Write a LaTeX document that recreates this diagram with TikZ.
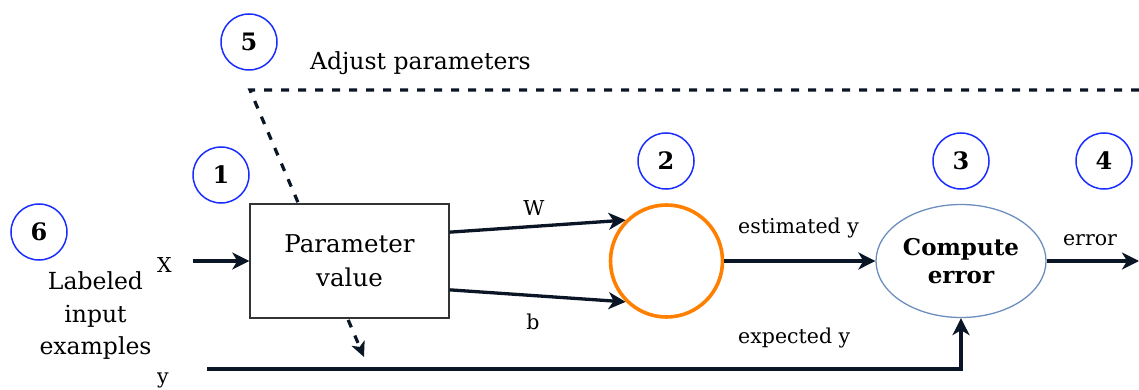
\documentclass[tikz,border=0pt]{standalone}
\usepackage{fontspec}
\setmainfont{DejaVu Serif}
\usetikzlibrary{arrows.meta,shapes.geometric,calc}
\definecolor{ink}{RGB}{10,22,38}
\definecolor{numblue}{RGB}{25,45,255}
\definecolor{ringorange}{RGB}{255,128,0}
\definecolor{ellblue}{RGB}{108,142,191}
\begin{document}
\begin{tikzpicture}[x=1pt,y=-1pt,
  arr/.style={draw=ink,line width=3.3pt,-{Stealth[length=17pt,width=17pt,inset=5pt]}},
  dsh/.style={draw=ink,line width=3.2pt,dash pattern=on 8pt off 9pt,-{Stealth[length=15pt,width=14pt,inset=4pt]}},
  num/.style={circle,draw=numblue,line width=1.5pt,minimum size=56pt,inner sep=0pt,font=\fontsize{24}{28}\selectfont\bfseries},
  lbl/.style={inner sep=0pt,font=\fontsize{20.5}{24}\selectfont},
  big/.style={inner sep=0pt,font=\fontsize{23.5}{32.5}\selectfont,align=center},
]
\useasboundingbox (0,0) rectangle (1139,390);
% dashed feedback path
\coordinate (dR) at (1139,90);
\coordinate (dL) at (250,90);
\coordinate (dE) at (364,357);
\draw[dsh] (dR) -- (dL) -- (dE);
% main nodes
\node[draw=black!80,line width=1.4pt,fill=white,minimum width=199pt,minimum height=114pt,inner sep=0pt,
      font=\fontsize{24.5}{34}\selectfont,align=center] (pv) at (349.5,261) {Parameter\\value};
\node[circle,draw=ringorange,line width=3.6pt,minimum size=112pt,inner sep=0pt] (sum) at (666.5,261) {};
\node[ellipse,draw=ellblue,line width=1.3pt,minimum width=170pt,minimum height=113pt,inner sep=0pt,
      font=\fontsize{23}{28}\selectfont\bfseries,align=center] (ce) at (961,261) {Compute\\error};
% numbered circles
\node[num] (n5) at (249,42) {5};
\node[num] (n1) at (221,175) {1};
\node[num] (n6) at (39,232) {6};
\node[num] (n2) at (666,161) {2};
\node[num] (n3) at (961,161) {3};
\node[num] (n4) at (1104,161) {4};
% labels
\node[lbl,font=\fontsize{23.5}{26}\selectfont,anchor=base west] (adj) at (310,70) {Adjust parameters};
\node[big] (lab) at (95.5,316) {Labeled\\input\\examples};
\node[lbl,anchor=base] (lx) at (164.5,272) {X};
\node[lbl,anchor=base] (ly) at (163,383) {y};
\node[lbl,anchor=base] (lw) at (534,215) {W};
\node[lbl,anchor=base] (lb) at (533,329) {b};
\node[lbl,anchor=base west] (lest) at (738,233) {estimated y};
\node[lbl,anchor=base west] (lexp) at (738,343) {expected y};
\node[lbl,anchor=base] (lerr) at (1090,245) {error};
% connectors
\coordinate (xin) at (193,261);
\coordinate (yin) at (207,369);
\coordinate (eout) at (1139,261);
\draw[arr] (xin) -- (pv.west);
\draw[arr] ($(pv.north east)!0.25!(pv.south east)$) -- (sum.135);
\draw[arr] ($(pv.north east)!0.75!(pv.south east)$) -- (sum.225);
\draw[arr] (sum.east) -- (ce.west);
\draw[arr] (ce.east) -- (eout);
\draw[arr] (yin) -| (ce.south);
\end{tikzpicture}
\end{document}
